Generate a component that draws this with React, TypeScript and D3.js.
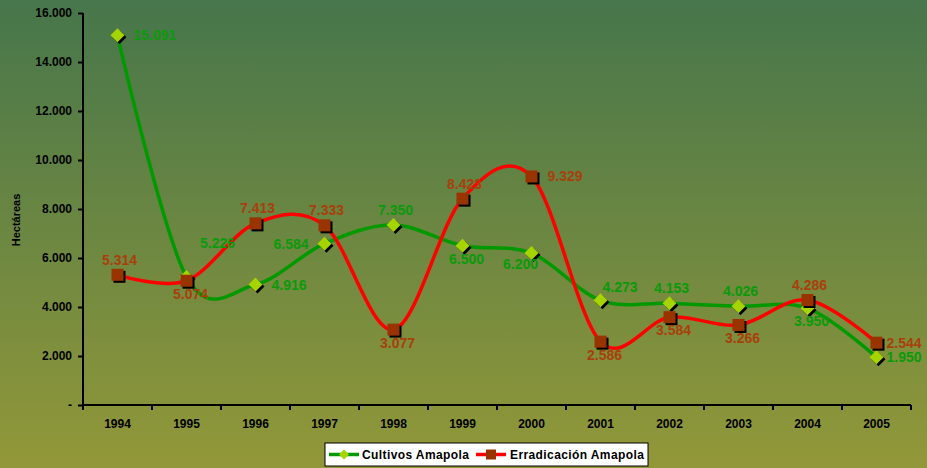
import React, { useEffect, useRef } from 'react';
import * as d3 from 'd3';

const years = ['1994', '1995', '1996', '1997', '1998', '1999', '2000', '2001', '2002', '2003', '2004', '2005'];
const cultivos = [15091, 5226, 4916, 6584, 7350, 6500, 6200, 4273, 4153, 4026, 3950, 1950];
const erradicacion = [5314, 5074, 7413, 7333, 3077, 8423, 9329, 2586, 3584, 3266, 4286, 2544];
const yTicks = [0, 2000, 4000, 6000, 8000, 10000, 12000, 14000, 16000];

// where each value label sits relative to its point
const cultivosLabelPos = ['right', 'upright', 'right', 'left', 'above', 'below', 'belowleft', 'nearright', 'above', 'above', 'below', 'edge'];
const erradicacionLabelPos = ['above', 'below', 'above', 'above', 'below', 'above', 'right', 'below', 'below', 'below', 'above', 'edge'];

const fmt = (v: number) => (v === 0 ? '-' : d3.format(',')(v).replace(/,/g, '.'));

const App: React.FC = () => {
  const svgRef = useRef<SVGSVGElement>(null);

  useEffect(() => {
    document.body.style.margin = '0';
    const W = 927, H = 468;
    const svg = d3.select(svgRef.current);
    svg.selectAll('*').remove();
    svg.attr('width', W).attr('height', H).style('display', 'block');

    const defs = svg.append('defs');
    const grad = defs.append('linearGradient').attr('id', 'bg').attr('x1', 0).attr('y1', 0).attr('x2', 0).attr('y2', 1);
    grad.append('stop').attr('offset', '0%').attr('stop-color', '#46764b');
    grad.append('stop').attr('offset', '100%').attr('stop-color', '#929838');
    svg.append('rect').attr('width', W).attr('height', H).attr('fill', 'url(#bg)');

    const x = d3.scaleBand<string>().domain(years).range([83, 911]);
    const y = d3.scaleLinear().domain([0, 16000]).range([405, 13]);
    const cx = (i: number) => (x(years[i]) || 0) + x.bandwidth() / 2;
    const font = 'Arial, "Liberation Sans", sans-serif';

    // y axis
    const yAxis = svg.append('g').attr('transform', 'translate(83,0)')
      .call(d3.axisLeft(y).tickValues(yTicks).tickSize(5).tickPadding(6).tickFormat(d => fmt(+d)));
    yAxis.selectAll('path, line').attr('stroke', '#000').attr('stroke-width', 2);
    yAxis.select('.domain').attr('d', 'M0,13V405');
    yAxis.selectAll('text').attr('font-family', font).attr('font-size', 12).attr('font-weight', 'bold').attr('fill', '#000');

    // x axis
    const xAxis = svg.append('g').attr('transform', 'translate(0,405)');
    xAxis.append('line').attr('x1', 83).attr('x2', 911).attr('stroke', '#000').attr('stroke-width', 2);
    xAxis.selectAll('.tk').data([...years, 'end']).enter().append('line')
      .attr('x1', (_, i) => 83 + i * x.bandwidth()).attr('x2', (_, i) => 83 + i * x.bandwidth())
      .attr('y1', 0).attr('y2', 5).attr('stroke', '#000').attr('stroke-width', 2);
    xAxis.selectAll('.lb').data(years).enter().append('text')
      .attr('x', d => (x(d) || 0) + x.bandwidth() / 2).attr('y', 23)
      .attr('text-anchor', 'middle').attr('font-family', font).attr('font-size', 12).attr('font-weight', 'bold').attr('fill', '#000')
      .text(d => d);

    svg.append('text').attr('transform', 'translate(20,220) rotate(-90)').attr('text-anchor', 'middle')
      .attr('font-family', font).attr('font-size', 11).attr('font-weight', 'bold').attr('fill', '#000').text('Hectáreas');

    const line = d3.line<number>().x((_, i) => cx(i)).y(d => y(d)).curve(d3.curveCardinal.tension(0));

    const series = [
      { values: cultivos, color: '#009a00', marker: 'diamond', fill: '#a6d400', labelColor: '#0a9a0a', pos: cultivosLabelPos },
      { values: erradicacion, color: '#ff0000', marker: 'square', fill: '#993300', labelColor: '#a8400c', pos: erradicacionLabelPos },
    ];

    series.forEach(s => {
      svg.append('path').datum(s.values).attr('fill', 'none').attr('stroke', s.color).attr('stroke-width', 3.5).attr('d', line);
      const g = svg.append('g');
      s.values.forEach((v, i) => {
        const px = cx(i), py = y(v);
        if (s.marker === 'diamond') {
          const d = (ox: number, oy: number) => `M${px + ox},${py + oy - 7}L${px + ox + 7},${py + oy}L${px + ox},${py + oy + 7}L${px + ox - 7},${py + oy}Z`;
          g.append('path').attr('d', d(2, 2)).attr('fill', '#000');
          g.append('path').attr('d', d(0, 0)).attr('fill', s.fill);
        } else {
          g.append('rect').attr('x', px - 6 + 2).attr('y', py - 6 + 2).attr('width', 12).attr('height', 12).attr('fill', '#000');
          g.append('rect').attr('x', px - 6).attr('y', py - 6).attr('width', 12).attr('height', 12).attr('fill', s.fill);
        }
      });
    });

    series.forEach(s => {
      s.values.forEach((v, i) => {
        const px = cx(i), py = y(v);
        let lx = px, ly = py, anchor = 'middle';
        switch (s.pos[i]) {
          case 'right': lx = px + 16; ly = py + 5; anchor = 'start'; break;
          case 'edge': lx = px + 10; ly = py + 5; anchor = 'start'; break;
          case 'left': lx = px - 16; ly = py + 5; anchor = 'end'; break;
          case 'above': lx = px + 2; ly = py - 10; break;
          case 'below': lx = px + 4; ly = py + 18; break;
          case 'belowleft': lx = px - 11; ly = py + 16; break;
          case 'upright': lx = px + 31; ly = py - 29; break;
          case 'nearright': lx = px + 2; ly = py - 8; anchor = 'start'; break;
        }
        svg.append('text').attr('x', lx).attr('y', ly).attr('text-anchor', anchor)
          .attr('font-family', font).attr('font-size', 14).attr('font-weight', 'bold').attr('fill', s.labelColor)
          .text(fmt(v));
      });
    });

    // legend
    const lg = svg.append('g').attr('transform', 'translate(325,443)');
    lg.append('rect').attr('width', 323).attr('height', 23).attr('fill', '#fff').attr('stroke', '#000').attr('stroke-width', 1);
    const items = [
      { name: 'Cultivos Amapola', x0: 4, tx: 37 },
      { name: 'Erradicación Amapola', x0: 151, tx: 185 },
    ];
    items.forEach((it, k) => {
      const s = series[k];
      lg.append('line').attr('x1', it.x0).attr('x2', it.x0 + 30).attr('y1', 11.5).attr('y2', 11.5).attr('stroke', s.color).attr('stroke-width', 3.5);
      const mx = it.x0 + 15;
      if (s.marker === 'diamond') {
        lg.append('path').attr('d', `M${mx},${6.5}L${mx + 5},11.5L${mx},16.5L${mx - 5},11.5Z`).attr('fill', s.fill);
      } else {
        lg.append('rect').attr('x', mx - 5).attr('y', 6.5).attr('width', 10).attr('height', 10).attr('fill', s.fill);
      }
      lg.append('text').attr('x', it.tx).attr('y', 16).attr('font-family', font).attr('font-size', 12)
        .attr('font-weight', 'bold').attr('letter-spacing', 0.4).attr('fill', '#000').text(it.name);
    });
  }, []);

  return <svg ref={svgRef}></svg>;
};

export default App;
